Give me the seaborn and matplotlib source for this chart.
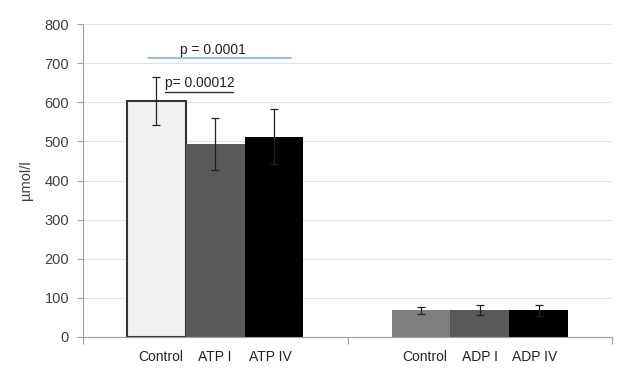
import matplotlib
matplotlib.use("Agg")
import matplotlib.pyplot as plt
import seaborn as sns
import pandas as pd

groups = ["ATP", "ATP", "ATP", "ADP", "ADP", "ADP"]
slots = [0, 1, 2, 0, 1, 2]
bar_labels = ["Control", "ATP I", "ATP IV", "Control", "ADP I", "ADP IV"]
means = [604, 493, 512, 68, 70, 68]
errs = [61, 67, 71, 8, 13, 14]
colors = ["#f0f0f0", "#595959", "#000000", "#7f7f7f", "#595959", "#000000"]
yticks = [0, 100, 200, 300, 400, 500, 600, 700, 800]
ylabel = "µmol/l"
p_texts = ["p = 0.0001", "p= 0.00012"]
p_levels = [714, 625]
p_spans = [(-0.254, 0.286), (-0.19, 0.067)]
p_text_x = [-0.0085, -0.058]

sns.set_theme(style="white")
plt.rcParams["font.family"] = ["Liberation Sans", "DejaVu Sans"]

df = pd.DataFrame({"group": groups, "slot": slots, "label": bar_labels,
                   "mean": means, "err": errs})

fig = plt.figure(figsize=(6.24, 3.78), dpi=100)
ax = fig.add_axes([83/624, 41/378, (612-83)/624, (337-24)/378])

sns.barplot(data=df, x="group", y="mean", hue="slot", order=["ATP", "ADP"],
            hue_order=[0, 1, 2], width=0.667, dodge=True, legend=False,
            errorbar=None, ax=ax, zorder=2)

bars = [p for p in ax.patches if p.get_height() > 0]
centers = []
for i in range(len(df)):
    gi = 0 if groups[i] == "ATP" else 1
    target = gi - 0.667/2 + 0.667/6*(2*slots[i]+1)
    best = min(bars, key=lambda p: abs((p.get_x() + p.get_width()/2) - target))
    best.set_facecolor(colors[i])
    best.set_edgecolor(colors[i])
    best.set_linewidth(0)
    if i == 0:
        best.set_edgecolor("#333333")
        best.set_linewidth(1.5)
    centers.append(best.get_x() + best.get_width() / 2)

ax.errorbar(centers, means, yerr=errs, fmt="none", ecolor="#222222",
            elinewidth=0.9, capsize=3, capthick=0.9, zorder=3)

ax.set_ylim(0, 800)
ax.set_xlim(-0.5, 1.5)
ax.set_yticks(yticks)
ax.set_yticklabels([str(t) for t in yticks], fontsize=10.5, color="#404040")
ax.set_ylabel(ylabel, fontsize=10.5, color="#404040", labelpad=8)
ax.set_xlabel("")
ax.set_xticks([-0.5, 0.5, 1.5])
ax.set_xticklabels([])
ax.tick_params(axis="x", length=5, color="#a0a0a0", width=0.8, direction="out", bottom=True)
ax.tick_params(axis="y", length=4, color="#a0a0a0", width=0.8, direction="out", left=True, pad=6)

ax.grid(axis="y", color="#e3e3e3", linewidth=0.8)
ax.set_axisbelow(True)
for s in ["top", "right"]:
    ax.spines[s].set_visible(False)
for s in ["left", "bottom"]:
    ax.spines[s].set_color("#a0a0a0")
    ax.spines[s].set_linewidth(0.8)

label_nudge = [0.015, 0.0, -0.015, 0.015, 0.0, -0.015]
for cx, lab, dx in zip(centers, bar_labels, label_nudge):
    ax.text(cx + dx, -0.065, lab, transform=ax.get_xaxis_transform(), ha="center",
            va="center", fontsize=10, color="#222222")

ax.plot(p_spans[0], [p_levels[0]] * 2, color="#7fa7d4", lw=1.1, zorder=4)
ax.text(p_text_x[0], p_levels[0] + 20, p_texts[0], ha="center",
        va="center", fontsize=10, color="#222222")
ax.plot(p_spans[1], [p_levels[1]] * 2, color="#333333", lw=1.0, zorder=4)
ax.text(p_text_x[1], p_levels[1] + 25, p_texts[1], ha="center",
        va="center", fontsize=10, color="#222222")

fig.savefig("out.png", dpi=100)
